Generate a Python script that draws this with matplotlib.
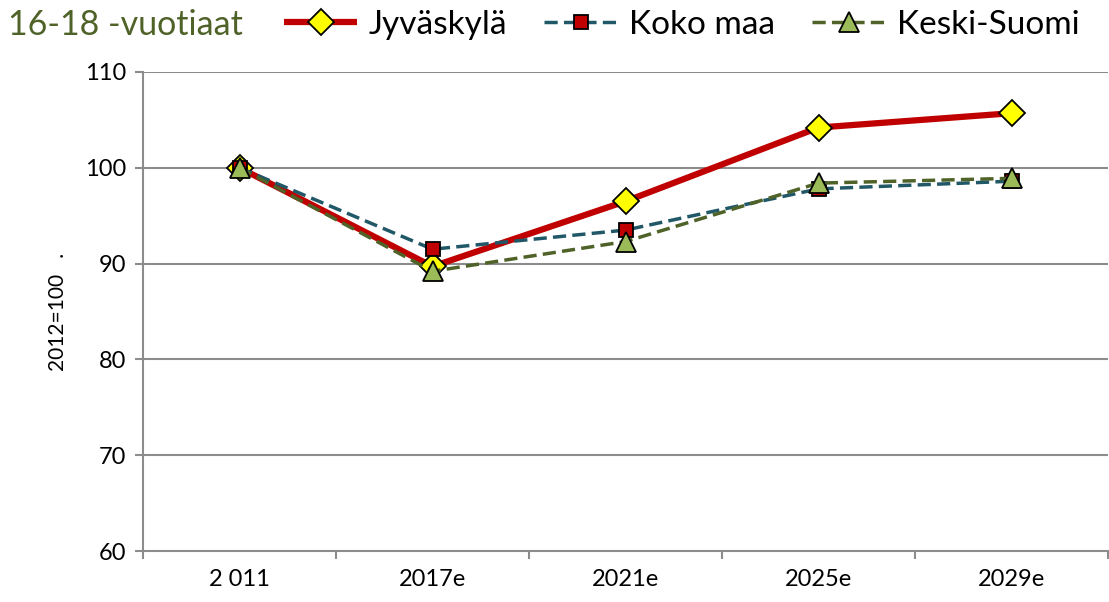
import matplotlib
matplotlib.use("Agg")
import matplotlib.pyplot as plt

plt.rcParams['font.family'] = ['Lato', 'DejaVu Sans']

categories = ["2 011", "2017e", "2021e", "2025e", "2029e"]
jyvaskyla = [100.0, 89.7, 96.5, 104.2, 105.7]
koko_maa = [100.0, 91.5, 93.5, 97.8, 98.6]
keski_suomi = [100.0, 89.2, 92.3, 98.4, 98.9]
yticks = [60, 70, 80, 90, 100, 110]

fig = plt.figure(figsize=(11.09, 6.02), dpi=100)
ax = fig.add_axes([143/1109, 1-551/602, (1108-143)/1109, (551-72)/602])

x = list(range(len(categories)))
grid_c = "#8C8C8C"

l1, = ax.plot(x, jyvaskyla, color="#C00000", lw=4.5, marker="D", markersize=13,
              markerfacecolor="#FFFF00", markeredgecolor="black", markeredgewidth=1.3,
              label="Jyväskylä", zorder=3, solid_capstyle="butt")
l2, = ax.plot(x, koko_maa, color="#215868", lw=2.5, ls=(0, (3.8, 1.8)), marker="s",
              markersize=10.5, markerfacecolor="#C00000", markeredgecolor="black",
              markeredgewidth=1.3, label="Koko maa", zorder=4)
l3, = ax.plot(x, keski_suomi, color="#4F6228", lw=2.5, ls=(0, (3.8, 1.8)), marker="^",
              markersize=14, markerfacecolor="#9BBB59", markeredgecolor="black",
              markeredgewidth=1.3, label="Keski-Suomi", zorder=5)

ax.set_xlim(-0.5, 4.5)
ax.set_ylim(60, 110)
ax.set_yticks(yticks)
ax.set_yticklabels([str(v) for v in yticks], fontsize=17)
ax.set_xticks(x)
ax.set_xticklabels(categories, fontsize=17)
ax.set_xticks([i - 0.5 for i in range(len(categories) + 1)], minor=True)
ax.tick_params(axis="x", which="major", length=0, pad=13)
ax.tick_params(axis="x", which="minor", length=6, width=1.5, color=grid_c, direction="out")
ax.tick_params(axis="y", length=6, width=1.5, color=grid_c, direction="out", pad=6)

for v in yticks[1:]:
    ax.axhline(v, color=grid_c, lw=1.5, zorder=1)

for s in ["top", "right"]:
    ax.spines[s].set_visible(False)
for s in ["left", "bottom"]:
    ax.spines[s].set_color(grid_c)
    ax.spines[s].set_linewidth(1.5)

ax.set_ylabel("2012=100   .", fontsize=15, labelpad=12)

fig.text(8/1109, 1-25/602, "16-18 -vuotiaat", color="#4F6228", fontsize=24.5,
         ha="left", va="center")
fig.legend(handles=[l1, l2, l3], loc="center left", bbox_to_anchor=(284/1109, 1-25/602),
           ncol=3, frameon=False, fontsize=24, handlelength=2.2, handletextpad=0.35,
           columnspacing=1.1, borderaxespad=0, borderpad=0)

fig.savefig("out.png", dpi=100)
